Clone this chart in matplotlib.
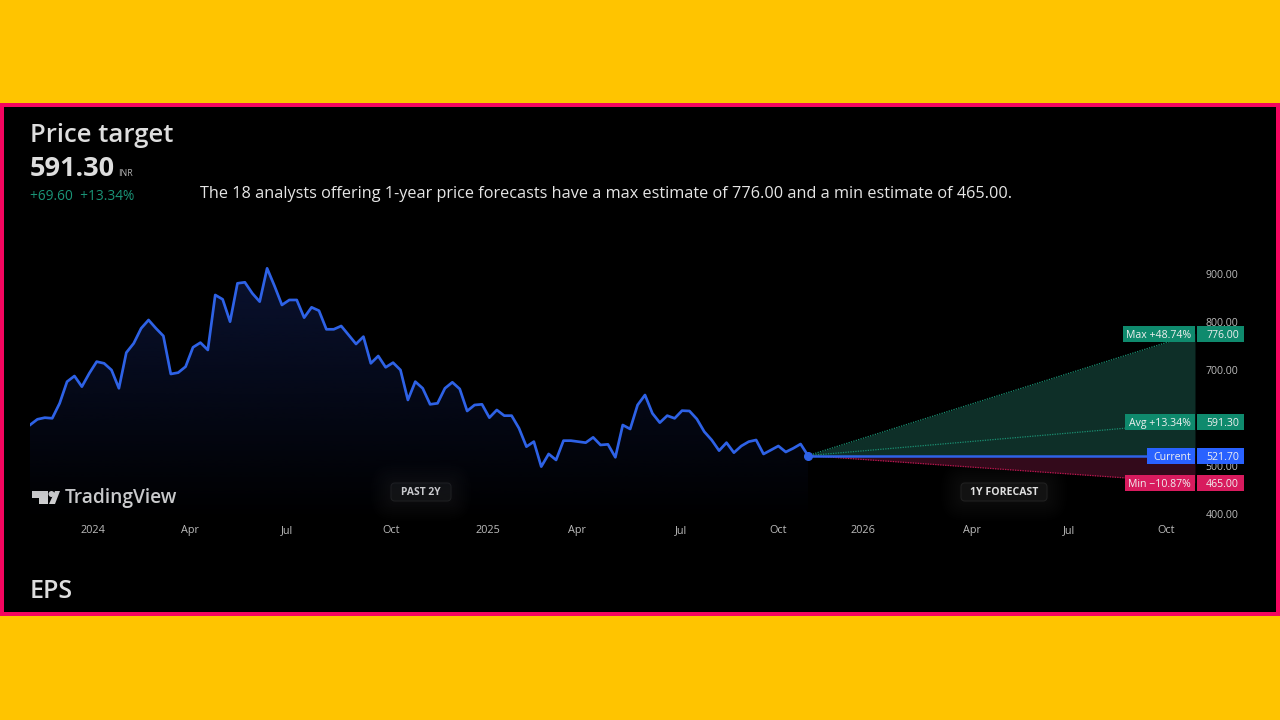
import numpy as np
import matplotlib

matplotlib.use('Agg')
import matplotlib.pyplot as plt
from matplotlib.patches import Rectangle, FancyBboxPatch, Polygon, Circle
from matplotlib.transforms import blended_transform_factory
from matplotlib.colors import to_rgb

plt.rcParams['font.family'] = ['Open Sans', 'DejaVu Sans']

# weekly closes
prices = [585.5, 597.3, 600.7, 599.4, 630.6, 675.7, 687.5, 665.3, 693.1, 717.4, 713.9, 700.0,
          661.9, 736.2, 755.6, 786.8, 804.2, 786.8, 770.9, 691.7, 694.5, 707.0, 747.3, 757.0,
          741.7, 856.3, 847.3, 800.7, 880.6, 882.7, 859.8, 842.4, 911.8, 875.0, 835.5, 845.9,
          845.9, 809.1, 830.6, 823.6, 784.8, 784.8, 791.7, 773.0, 754.2, 769.5, 713.9, 729.2,
          705.6, 715.3, 700.0, 637.6, 675.7, 661.9, 628.5, 630.6, 661.9, 674.4, 660.5, 614.6,
          627.1, 628.5, 600.7, 616.7, 604.9, 604.9, 578.5, 540.3, 550.8, 498.7, 525.1, 512.6,
          552.8, 552.8, 550.7, 548.6, 559.7, 543.8, 545.1, 518.1, 585.4, 577.1, 627.1, 647.9,
          609.7, 590.3, 604.9, 599.3, 615.3, 614.6, 597.9, 571.5, 554.2, 532.0, 548.6, 527.8,
          541.7, 550.7, 554.2, 525.0, 533.3, 541.7, 529.2, 536.8, 545.8, 521.7]

current = 521.70
target_max = 776.00
target_avg = 591.30
target_min = 465.00

y_ticks = [400, 500, 600, 700, 800, 900]
x_tick_labels = ['2024', 'Apr', 'Jul', 'Oct', '2025', 'Apr', 'Jul', 'Oct', '2026', 'Apr', 'Jul', 'Oct']
x_tick_px = [93, 190, 287, 391, 488, 577, 681, 778, 863, 972, 1069, 1166]

BLUE = '#2e62e6'
GREEN = '#0f8a6d'
RED = '#d81b5e'
GREY = '#bcbcbc'
W, H = 1280, 720
LEFT, RIGHT, TOP, BOTTOM = 30, 1195, 240, 520
PX_PER_100 = 48.0


def badge(ax, cx, cy, half, label, size):
    # soft glow first, then the pill
    for pad in range(20, 0, -2):
        ax.add_patch(FancyBboxPatch((cx - half - pad, cy - 9 - pad), 2 * (half + pad), 18 + 2 * pad,
                                    boxstyle='round,pad=0,rounding_size=%d' % (pad + 4),
                                    fc='white', ec='none', alpha=0.009))
    ax.add_patch(FancyBboxPatch((cx - half, cy - 9), 2 * half, 18, boxstyle='round,pad=0,rounding_size=4',
                                fc='#121212', ec='#202020', lw=0.8))
    ax.text(cx, cy + 0.5, label, color='#e0e0e0', fontsize=size, fontweight='bold',
            ha='center', va='center')


def main():
    fig = plt.figure(figsize=(W / 100, H / 100), dpi=100)

    # page layer in pixel coordinates
    bg = fig.add_axes([0, 0, 1, 1])
    bg.set_xlim(0, W)
    bg.set_ylim(H, 0)
    bg.axis('off')
    bg.add_patch(Rectangle((0, 0), W, H, fc='#ffc400', ec='none'))
    bg.add_patch(Rectangle((0, 103), W, 513, fc='#f5055f', ec='none'))
    bg.add_patch(Rectangle((4, 107), W - 8, 505, fc='black', ec='none'))

    bg.text(30, 135.5, 'Price target', color='#dedede', fontsize=18.5, fontweight='semibold', va='center')
    bg.text(30, 169, '591.30', color='#dedede', fontsize=19.5, fontweight='bold', va='center')
    bg.text(118, 173.5, 'INR', color='#b0b0b0', fontsize=6.4, va='center')
    bg.text(30, 196, '+69.60  +13.34%', color='#1a9477', fontsize=9.9, va='center')
    bg.text(200, 194, 'The 18 analysts offering 1-year price forecasts have a max estimate of 776.00 '
                      'and a min estimate of 465.00.', color='#e6e6e6', fontsize=11.7, va='center')
    bg.text(30, 592, 'EPS', color='#dedede', fontsize=18, fontweight='semibold', va='center')

    # logo
    bg.add_patch(Polygon([(32, 491), (48, 491), (48, 504), (38.5, 504), (38.5, 497.5), (32, 497.5)],
                         fc='#dcdcdc', ec='none'))
    bg.add_patch(Circle((51.5, 494), 3, fc='#dcdcdc', ec='none'))
    bg.add_patch(Polygon([(55, 491), (60, 491), (55, 504), (49, 504)], fc='#dcdcdc', ec='none'))
    bg.text(65, 498.5, 'TradingView', color='#dcdcdc', fontsize=13.8, fontweight='semibold', va='center')

    badge(bg, 421, 492, 30, 'PAST 2Y', 7.4)
    badge(bg, 1004, 492, 43, '1Y FORECAST', 7.6)

    # chart layer
    ax = fig.add_axes([LEFT / W, 1 - BOTTOM / H, (RIGHT - LEFT) / W, (BOTTOM - TOP) / H])
    ax.patch.set_alpha(0)
    step = (808 - LEFT) / (len(prices) - 1)
    weeks = np.arange(len(prices))
    x_end = (RIGHT - LEFT) / step
    y_lo = 900 - (BOTTOM - 274) / PX_PER_100 * 100
    y_hi = 900 - (TOP - 274) / PX_PER_100 * 100
    ax.set_xlim(0, x_end)
    ax.set_ylim(y_lo, y_hi)

    # area under the line, navy fading to black
    grad = np.zeros((256, 1, 4))
    grad[..., :3] = to_rgb('#0a1230')
    grad[..., 3] = np.linspace(1, 0, 256)[:, None]
    area = ax.fill_between(weeks, prices, y_lo, color='none')
    img = ax.imshow(grad, extent=(0, weeks[-1], y_lo, max(prices)), aspect='auto', origin='upper', zorder=1)
    img.set_clip_path(area.get_paths()[0], ax.transData)
    ax.set_xlim(0, x_end)
    ax.set_ylim(y_lo, y_hi)

    ax.plot(weeks, prices, color=BLUE, lw=1.95, zorder=4, solid_joinstyle='round')
    ax.plot(weeks[-1], prices[-1], 'o', color=BLUE, ms=5.5, zorder=4)

    # forecast fan
    fx = [weeks[-1], x_end]
    ax.fill_between(fx, [current, current], [current, target_max], color='#0e2f28', lw=0, zorder=2)
    ax.fill_between(fx, [current, current], [current, target_min], color='#330a1b', lw=0, zorder=2)
    ax.plot(fx, [current, target_max], color='#1a8f72', lw=0.9, ls=(0, (1, 1)), zorder=3)
    ax.plot(fx, [current, target_avg], color='#1a8f72', lw=0.9, ls=(0, (1, 1)), zorder=3)
    ax.plot(fx, [current, target_min], color='#c01650', lw=0.9, ls=(0, (1, 1)), zorder=3)
    ax.plot(fx, [current, current], color=BLUE, lw=1.8, zorder=3)

    ax.set_yticks(y_ticks)
    ax.set_yticklabels(['%.2f' % v for v in y_ticks])
    ax.yaxis.tick_right()
    ax.set_xticks([(p - LEFT) / step for p in x_tick_px])
    ax.set_xticklabels(x_tick_labels)
    ax.tick_params(axis='y', length=0, pad=7.5, labelsize=7.6, labelcolor=GREY)
    ax.tick_params(axis='x', length=0, pad=3.5, labelsize=7.8, labelcolor=GREY)
    for s in ax.spines.values():
        s.set_visible(False)

    # price tags, x in page pixels and y in price
    trans = blended_transform_factory(bg.transData, ax.transData)
    h = 16 / PX_PER_100 * 100
    tags = [('Max +48.74%', target_max, 1122.5, GREEN),
            ('Avg +13.34%', target_avg, 1124.5, GREEN),
            ('Current', current, 1147, '#2962ff'),
            ('Min \u221210.87%', target_min, 1124.5, RED)]
    for label, val, x0, col in tags:
        for xa, xb, txt, ha_x in [(x0, 1195, label, 1191), (1196.7, 1243.5, '%.2f' % val, 1239)]:
            ax.add_patch(Rectangle((xa, val - h / 2), xb - xa, h, fc=col, ec='none',
                                   transform=trans, clip_on=False, zorder=6))
            ax.text(ha_x, val, txt, color='#f0f0f0', fontsize=7.6, ha='right', va='center_baseline',
                    transform=trans, clip_on=False, zorder=7)

    fig.savefig('out.png', dpi=100)


if __name__ == "__main__":
    main()
